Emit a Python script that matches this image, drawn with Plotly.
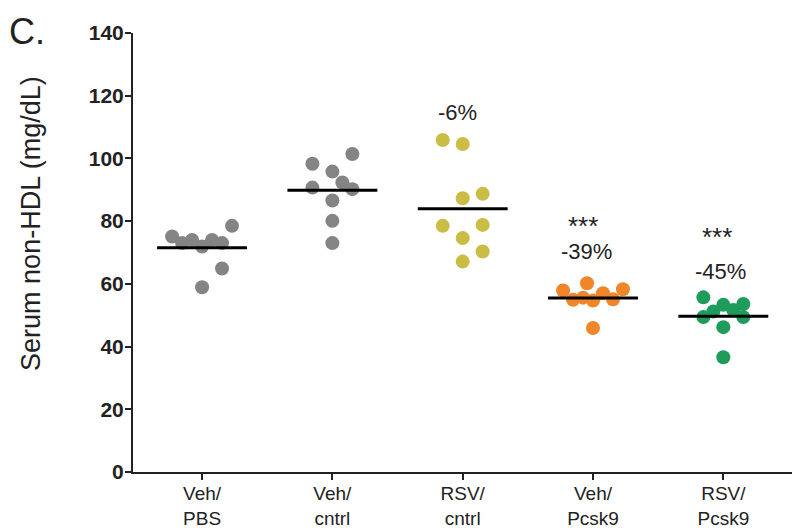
import plotly.graph_objects as go

categories = ["Veh/<br>PBS", "Veh/<br>cntrl", "RSV/<br>cntrl", "Veh/<br>Pcsk9", "RSV/<br>Pcsk9"]

veh_pbs = [75.1, 73.0, 74.0, 71.9, 74.0, 73.0, 78.5, 64.9, 58.9]
veh_cntrl = [98.3, 101.4, 95.8, 90.7, 92.3, 90.2, 86.6, 80.1, 73.0]
rsv_cntrl = [105.9, 104.6, 87.3, 88.7, 78.5, 78.8, 74.6, 70.3, 67.1]
veh_pcsk9 = [57.9, 60.2, 54.9, 55.6, 54.7, 57.0, 55.1, 58.3, 45.9]
rsv_pcsk9 = [55.7, 53.3, 51.2, 53.6, 51.7, 49.4, 49.4, 46.2, 36.6]

# horizontal spread of points within each column (in point-widths)
spread = [
    [-3, -2, -1, 0, 1, 2, 3, 2, 0],
    [-2, 2, 0, -2, 1, 2, 0, 0, 0],
    [-2, 0, 0, 2, -2, 2, 0, 2, 0],
    [-3, -0.6, -2, -1, 0, 1, 2, 3, 0],
    [-2, 0, -1, 2, 1, -2, 2, 0, 0],
]

labels_text = ["-6%", "***", "-39%", "***", "-45%"]
labels_cat = [2, 3, 3, 4, 4]
labels_dx = [-0.04, -0.08, -0.05, -0.05, -0.02]
labels_y = [114.8, 78.6, 70.2, 75.0, 63.8]
labels_size = [22, 26, 22, 26, 22]

colors = ["#848484", "#c9bd45", "#f0852a", "#1f9c5c"]
group_colors = [colors[0], colors[0], colors[1], colors[2], colors[3]]

groups = [veh_pbs, veh_cntrl, rsv_cntrl, veh_pcsk9, rsv_pcsk9]
step = 0.0766
half = 0.345

fig = go.Figure()
for i, (vals, sp) in enumerate(zip(groups, spread)):
    fig.add_trace(go.Scatter(
        x=[i + s * step for s in sp], y=vals, mode="markers",
        marker=dict(size=14, color=group_colors[i], line=dict(width=0)),
        showlegend=False, hoverinfo="y", cliponaxis=False))
for i, vals in enumerate(groups):
    m = sum(vals) / len(vals)
    fig.add_trace(go.Scatter(
        x=[i - half, i + half], y=[m, m], mode="lines",
        line=dict(color="black", width=3), showlegend=False, hoverinfo="skip"))

for t, c, dx, y, s in zip(labels_text, labels_cat, labels_dx, labels_y, labels_size):
    fig.add_annotation(x=c + dx, y=y, text=t, showarrow=False, xref="x", yref="y",
                       font=dict(family="Liberation Sans", size=s, color="#222222"))

fig.add_annotation(xref="paper", yref="paper", x=-0.155, y=0.566, text="Serum non-HDL (mg/dL)",
                   textangle=-90, showarrow=False, xanchor="center", yanchor="middle",
                   font=dict(family="Liberation Sans", size=27, color="#222222"))
fig.add_annotation(xref="paper", yref="paper", x=-0.16, y=1.003, text="C.",
                   showarrow=False, xanchor="center", yanchor="middle",
                   font=dict(family="Liberation Sans", size=36, color="#222222"))

fig.update_layout(
    width=792, height=522,
    margin=dict(l=125, r=5, t=25, b=58),
    paper_bgcolor="white", plot_bgcolor="white",
    xaxis=dict(range=[-0.53, 4.55], tickvals=list(range(5)), ticktext=categories,
               showline=True, linecolor="#222222", linewidth=2, ticks="outside",
               ticklen=6, tickwidth=2, tickcolor="#222222", showgrid=False, zeroline=False,
               automargin=False, ticklabelstandoff=-3,
               tickfont=dict(family="Liberation Sans", size=19, color="#222222")),
    yaxis=dict(range=[0, 140], tickvals=list(range(0, 141, 20)),
               showline=True, linecolor="#222222", linewidth=2, ticks="outside",
               ticklen=6, tickwidth=2, tickcolor="#222222", showgrid=False, zeroline=False,
               automargin=False, ticklabelstandoff=-3,
               tickfont=dict(family="Liberation Sans", size=21, color="#222222", weight="bold")),
)

fig.write_html("out.html")
